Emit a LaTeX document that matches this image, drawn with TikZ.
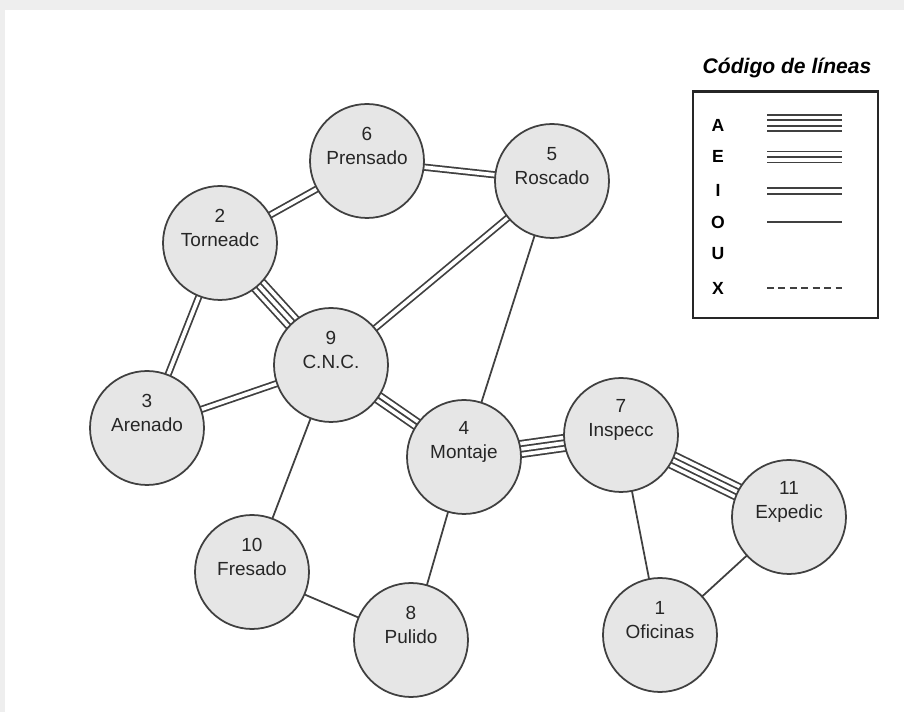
\documentclass[tikz,border=0pt]{standalone}
\usepackage{fontspec}
\setmainfont{Liberation Sans}
\usepackage{xcolor}
\usetikzlibrary{backgrounds}

\definecolor{linea}{HTML}{404040}
\definecolor{relleno}{HTML}{E6E6E6}
\definecolor{marco}{HTML}{EEEEEE}

\tikzset{
  estacion/.style={circle, draw=linea, line width=1pt, fill=relleno, minimum size=2.28cm, inner sep=0pt},
  rotulo/.style={align=center, inner sep=0pt, text=black!85, font=\fontsize{10.8}{13.5}\selectfont},
  letra/.style={inner sep=0pt, font=\fontsize{10}{12}\selectfont\bfseries},
  relO/.style={draw=linea, line width=1pt},
  relI/.style={preaction={draw=linea, line width=4.1pt}, draw=white, line width=2.1pt},
  relE/.style={preaction={draw=linea, line width=7.2pt}, preaction={draw=white, line width=5.2pt}, draw=linea, line width=1pt},
  relA/.style={preaction={draw=linea, line width=10.3pt}, preaction={draw=white, line width=8.3pt}, preaction={draw=linea, line width=4.1pt}, draw=white, line width=2.1pt},
  relX/.style={draw=linea, line width=1pt, dash pattern=on 4pt off 2.5pt},
}

\begin{document}
\begin{tikzpicture}[x=0.02cm, y=-0.02cm]
    \useasboundingbox (0,0) rectangle (904,712);

    % stations
    \node[estacion] (n6) at (367,161) {};
    \node[estacion] (n5) at (552,181) {};
    \node[estacion] (n2) at (220,243) {};
    \node[estacion] (n9) at (331,365) {};
    \node[estacion] (n3) at (147,428) {};
    \node[estacion] (n4) at (464,457) {};
    \node[estacion] (n7) at (621,435) {};
    \node[estacion] (n11) at (789,517) {};
    \node[estacion] (n10) at (252,572) {};
    \node[estacion] (n8) at (411,640) {};
    \node[estacion] (n1) at (660,635) {};

    \node[rotulo] (t6) at ([yshift=8.5pt]n6.center) {6\\Prensado};
    \node[rotulo] (t5) at ([yshift=8.5pt]n5.center) {5\\Roscado};
    \node[rotulo] (t2) at ([yshift=8.5pt]n2.center) {2\\Torneadc};
    \node[rotulo] (t9) at ([yshift=8.5pt]n9.center) {9\\C.N.C.};
    \node[rotulo] (t3) at ([yshift=8.5pt]n3.center) {3\\Arenado};
    \node[rotulo] (t4) at ([yshift=8.5pt]n4.center) {4\\Montaje};
    \node[rotulo] (t7) at ([yshift=8.5pt]n7.center) {7\\Inspecc};
    \node[rotulo] (t11) at ([yshift=8.5pt]n11.center) {11\\Expedic};
    \node[rotulo] (t10) at ([yshift=8.5pt]n10.center) {10\\Fresado};
    \node[rotulo] (t8) at ([yshift=8.5pt]n8.center) {8\\Pulido};
    \node[rotulo] (t1) at ([yshift=8.5pt]n1.center) {1\\Oficinas};

    \begin{pgfonlayer}{background}
        \fill[marco] (0,0) rectangle (904,712);
        \fill[white] (5,10) rectangle (904,712);
        % relationships
        \draw[relI] (n6.center) -- (n2.center);
        \draw[relI] (n6.center) -- (n5.center);
        \draw[relA] (n2.center) -- (n9.center);
        \draw[relI] (n2.center) -- (n3.center);
        \draw[relI] (n3.center) -- (n9.center);
        \draw[relI] (n9.center) -- (n5.center);
        \draw[relE] (n9.center) -- (n4.center);
        \draw[relO] (n5.center) -- (n4.center);
        \draw[relO] (n9.center) -- (n10.center);
        \draw[relA] (n4.center) -- (n7.center);
        \draw[relA] (n7.center) -- (n11.center);
        \draw[relO] (n4.center) -- (n8.center);
        \draw[relO] (n10.center) -- (n8.center);
        \draw[relO] (n7.center) -- (n1.center);
        \draw[relO] (n11.center) -- (n1.center);
    \end{pgfonlayer}

    % legend
    \node[font=\fontsize{12}{14}\selectfont\bfseries\itshape] (titulo) at (787,68) {Código de líneas};
    \draw[draw=black!85, line width=1.7pt] (693,92) rectangle (878,318);
    \node[letra] (lA) at (718,125) {A};
    \node[letra] (lE) at (718,156) {E};
    \node[letra] (lI) at (718,190) {I};
    \node[letra] (lO) at (718,222) {O};
    \node[letra] (lU) at (718,254) {U};
    \node[letra] (lX) at (718,288) {X};
    \draw[relA] (767,123) -- (842,123);
    \draw[relE] (767,157) -- (842,157);
    \draw[relI] (767,191) -- (842,191);
    \draw[relO] (767,222) -- (842,222);
    \draw[relX] (767,288) -- (842,288);
\end{tikzpicture}
\end{document}
